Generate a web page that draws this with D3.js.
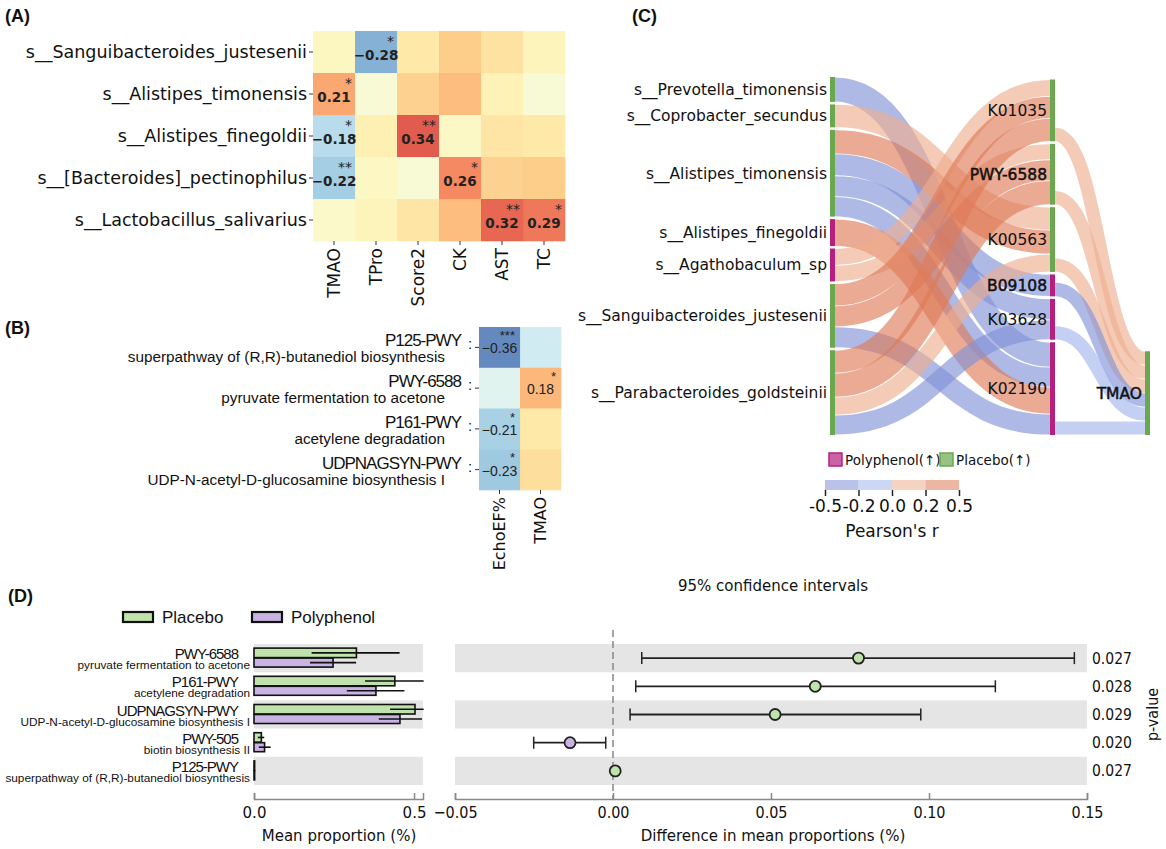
<!DOCTYPE html>
<html>
<head>
<meta charset="utf-8">
<title>Correlation and pathway panels</title>
<script src="https://d3js.org/d3.v7.min.js"></script>
<style>
  body { margin: 0; background: #fff; }
  svg text { font-family: "DejaVu Sans", sans-serif; fill: #111; }
  svg text.arial { font-family: "Liberation Sans", Arial, sans-serif; }
  svg text.cond { font-family: "DejaVu Sans Condensed", "DejaVu Sans", sans-serif; font-stretch: condensed; }
</style>
</head>
<body>
<svg id="fig" width="1166" height="849"></svg>
<script>
// ---------- (A) species x clinical traits
var speciesA = ["s__Sanguibacteroides_justesenii", "s__Alistipes_timonensis", "s__Alistipes_finegoldii",
                "s__[Bacteroides]_pectinophilus", "s__Lactobacillus_salivarius"];
var traitsA = ["TMAO", "TPro", "Score2", "CK", "AST", "TC"];
var corrA = [
  [0.02, -0.28, 0.07, 0.14, 0.09, 0.03],
  [0.21, -0.02, 0.13, 0.17, 0.04, -0.02],
  [-0.18, 0.05, 0.34, 0.01, 0.08, 0.07],
  [-0.22, 0.015, -0.02, 0.26, 0.13, 0.14],
  [0.0, 0.03, 0.08, 0.17, 0.32, 0.29]
];
var starsA = [
  ["", "*", "", "", "", ""],
  ["*", "", "", "", "", ""],
  ["*", "", "**", "", "", ""],
  ["**", "", "", "*", "", ""],
  ["", "", "", "", "**", "*"]
];

// ---------- (B) pathways x traits
var pathB = ["P125-PWY", "PWY-6588", "P161-PWY", "UDPNAGSYN-PWY"];
var descB = ["superpathway of (R,R)-butanediol biosynthesis", "pyruvate fermentation to acetone",
             "acetylene degradation", "UDP-N-acetyl-D-glucosamine biosynthesis I"];
var traitsB = ["EchoEF%", "TMAO"];
var corrB = [
  [-0.36, -0.13],
  [-0.09, 0.18],
  [-0.21, 0.07],
  [-0.23, 0.10]
];
var starsB = [
  ["***", ""],
  ["", "*"],
  ["*", ""],
  ["*", ""]
];

// ---------- (C) sankey
var sankeyNodes = ["s__Prevotella_timonensis", "s__Coprobacter_secundus", "s__Alistipes_timonensis",
                   "s__Alistipes_finegoldii", "s__Agathobaculum_sp", "s__Sanguibacteroides_justesenii",
                   "s__Parabacteroides_goldsteinii",
                   "K01035", "PWY-6588", "K00563", "B09108", "K03628", "K02190", "TMAO"];
var sankeyCols = [0, 0, 0, 0, 0, 0, 0, 1, 1, 1, 1, 1, 1, 2];
var sankeyGroups = ["Placebo", "Placebo", "Placebo", "Polyphenol", "Polyphenol", "Placebo", "Placebo",
                    "Placebo", "Placebo", "Placebo", "Polyphenol", "Polyphenol", "Polyphenol", "Placebo"];
// [source, target, weight, pearson r]
var sankeyLinks = [
  ["s__Prevotella_timonensis", "K02190", 25, -0.25],
  ["s__Coprobacter_secundus", "K00563", 23, 0.18],
  ["s__Alistipes_timonensis", "K00563", 24, 0.28],
  ["s__Alistipes_timonensis", "B09108", 22, -0.26],
  ["s__Alistipes_timonensis", "K03628", 21, -0.24],
  ["s__Alistipes_timonensis", "K02190", 20, -0.23],
  ["s__Alistipes_finegoldii", "K02190", 27, 0.27],
  ["s__Agathobaculum_sp", "K01035", 17, 0.15],
  ["s__Agathobaculum_sp", "PWY-6588", 16, 0.16],
  ["s__Sanguibacteroides_justesenii", "K01035", 22, 0.26],
  ["s__Sanguibacteroides_justesenii", "PWY-6588", 21, 0.27],
  ["s__Sanguibacteroides_justesenii", "K02190", 21, -0.25],
  ["s__Parabacteroides_goldsteinii", "K01035", 23, 0.28],
  ["s__Parabacteroides_goldsteinii", "PWY-6588", 24, 0.26],
  ["s__Parabacteroides_goldsteinii", "K00563", 18, 0.16],
  ["s__Parabacteroides_goldsteinii", "K03628", 20, -0.22],
  ["K01035", "TMAO", 14, 0.17],
  ["PWY-6588", "TMAO", 14, 0.16],
  ["K00563", "TMAO", 14, 0.15],
  ["B09108", "TMAO", 14, -0.21],
  ["K03628", "TMAO", 14, -0.18],
  ["K02190", "TMAO", 14, -0.18]
];
var rBreaks = [-0.2, 0, 0.2];
var rTickLabels = ["-0.5", "-0.2", "0.0", "0.2", "0.5"];

// ---------- (D) extended error bar
var pathD = ["PWY-6588", "P161-PWY", "UDPNAGSYN-PWY", "PWY-505", "P125-PWY"];
var descD = ["pyruvate fermentation to acetone", "acetylene degradation",
             "UDP-N-acetyl-D-glucosamine biosynthesis I", "biotin biosynthesis II",
             "superpathway of (R,R)-butanediol biosynthesis"];
var placeboMean = [0.32, 0.44, 0.503, 0.023, 0.002];
var placeboLo = [0.18, 0.347, 0.425, 0.012, 0.001];
var placeboHi = [0.455, 0.53, 0.53, 0.032, 0.003];
var polyMean = [0.247, 0.381, 0.456, 0.033, 0.002];
var polyLo = [0.175, 0.29, 0.39, 0.015, 0.001];
var polyHi = [0.319, 0.47, 0.525, 0.052, 0.003];
var diffMean = [0.0777, 0.064, 0.0513, -0.0136, 0.0007];
var diffLo = [0.0091, 0.0072, 0.0054, -0.0251, 0.0003];
var diffHi = [0.146, 0.121, 0.0974, -0.0023, 0.0011];
var pValues = ["0.027", "0.028", "0.029", "0.020", "0.027"];
var ticksMean = [0, 0.5];
var ticksDiff = [-0.05, 0, 0.05, 0.10, 0.15];

var svg = d3.select("#fig");
var heat = d3.scaleSequential([0.45, -0.45], d3.interpolateRdYlBu);
var f2 = d3.format(".2f");

// panel letters
[["(A)", 5, 22], ["(B)", 5, 334], ["(C)", 632, 22], ["(D)", 8, 602]].forEach(function (p) {
  svg.append("text").attr("class", "arial").attr("x", p[1]).attr("y", p[2])
    .style("font-size", "18px").style("font-weight", "bold").text(p[0]);
});

// ================= panel A
var xA = d3.scaleBand().domain(traitsA).range([313, 565]);
var yA = d3.scaleBand().domain(speciesA).range([31, 241]);
var cellsA = [];
speciesA.forEach(function (sp, i) {
  traitsA.forEach(function (tr, j) {
    cellsA.push({ row: sp, col: tr, r: corrA[i][j], s: starsA[i][j] });
  });
});
var gA = svg.append("g");
gA.selectAll("rect").data(cellsA).join("rect")
  .attr("x", d => xA(d.col)).attr("y", d => yA(d.row))
  .attr("width", xA.bandwidth() + 0.3).attr("height", yA.bandwidth() + 0.3)
  .attr("fill", d => heat(d.r)).attr("fill-opacity", 0.85);
var sigA = cellsA.filter(d => d.s !== "");
gA.selectAll("text.val").data(sigA).join("text").attr("class", "val")
  .attr("x", d => xA(d.col) + xA.bandwidth() / 2).attr("y", d => yA(d.row) + yA.bandwidth() / 2 + 8)
  .attr("text-anchor", "middle").style("font-size", "13.5px").style("font-weight", "bold")
  .style("fill", "#222").text(d => f2(d.r));
gA.selectAll("text.star").data(sigA).join("text").attr("class", "star")
  .attr("x", d => xA(d.col) + xA.bandwidth() - 3).attr("y", d => yA(d.row) + 15)
  .attr("text-anchor", "end").style("font-size", "14px").style("fill", "#222").text(d => d.s);
speciesA.forEach(function (sp) {
  var cy = yA(sp) + yA.bandwidth() / 2;
  gA.append("line").attr("x1", 309).attr("x2", 313).attr("y1", cy).attr("y2", cy).attr("stroke", "#333");
  gA.append("text").attr("x", 307).attr("y", cy).attr("dy", "0.35em").attr("text-anchor", "end")
    .style("font-size", "17.5px").text(sp);
});
traitsA.forEach(function (tr) {
  var cx = xA(tr) + xA.bandwidth() / 2;
  gA.append("line").attr("x1", cx).attr("x2", cx).attr("y1", 241).attr("y2", 245).attr("stroke", "#333");
  gA.append("text").attr("transform", "translate(" + cx + ",248) rotate(-90)")
    .attr("dy", "0.35em").attr("text-anchor", "end").style("font-size", "17px").text(tr);
});

// ================= panel B
var xB = d3.scaleBand().domain(traitsB).range([479, 561]);
var yB = d3.scaleBand().domain(pathB).range([327, 490]);
var cellsB = [];
pathB.forEach(function (p, i) {
  traitsB.forEach(function (tr, j) {
    cellsB.push({ row: p, col: tr, r: corrB[i][j], s: starsB[i][j] });
  });
});
var gB = svg.append("g");
gB.selectAll("rect").data(cellsB).join("rect")
  .attr("x", d => xB(d.col)).attr("y", d => yB(d.row))
  .attr("width", xB.bandwidth() + 0.3).attr("height", yB.bandwidth() + 0.3)
  .attr("fill", d => heat(d.r)).attr("fill-opacity", 0.85);
var sigB = cellsB.filter(d => d.s !== "");
gB.selectAll("text.val").data(sigB).join("text").attr("class", "val arial")
  .attr("x", d => xB(d.col) + xB.bandwidth() / 2).attr("y", d => yB(d.row) + yB.bandwidth() / 2 + 6)
  .attr("text-anchor", "middle").style("font-size", "14px").style("fill", "#222").text(d => f2(d.r));
gB.selectAll("text.star").data(sigB).join("text").attr("class", "star arial")
  .attr("x", d => xB(d.col) + xB.bandwidth() - 5).attr("y", d => yB(d.row) + 13)
  .attr("text-anchor", "end").style("font-size", "13px").style("fill", "#222").text(d => d.s);
pathB.forEach(function (p, i) {
  var cy = yB(p) + yB.bandwidth() / 2;
  gB.append("text").attr("class", "arial").attr("x", 461).attr("y", cy - 1).attr("text-anchor", "end")
    .style("font-size", "17px").style("letter-spacing", "-1px").text(p);
  gB.append("text").attr("class", "arial").attr("x", 470).attr("y", cy + 2).attr("text-anchor", "middle")
    .style("font-size", "15px").text(":");
  gB.append("text").attr("class", "arial").attr("x", 445).attr("y", cy + 15).attr("text-anchor", "end")
    .style("font-size", "15.3px").text(descB[i]);
  gB.append("line").attr("x1", 475).attr("x2", 479).attr("y1", cy).attr("y2", cy).attr("stroke", "#333");
});
traitsB.forEach(function (tr) {
  var cx = xB(tr) + xB.bandwidth() / 2;
  gB.append("line").attr("x1", cx).attr("x2", cx).attr("y1", 490).attr("y2", 494).attr("stroke", "#333");
  gB.append("text").attr("transform", "translate(" + cx + ",497) rotate(-90)")
    .attr("dy", "0.35em").attr("text-anchor", "end").style("font-size", "16px").text(tr);
});

// ================= panel C (sankey, laid out by hand)
var linkColor = d3.scaleThreshold().domain(rBreaks).range(["#8092d8", "#a3b6ec", "#eeae8e", "#de7a58"]);
var groupColor = d3.scaleOrdinal().domain(["Polyphenol", "Placebo"]).range(["#b5207f", "#6aa84f"]);
var colX = d3.scaleOrdinal().domain([0, 1, 2]).range([830, 1050, 1145]);
var nodeW = 5, nodePad = 2.5, sTop = 77, sBottom = 435;

var nodes = sankeyNodes.map(function (name, i) {
  return { name: name, col: sankeyCols[i], group: sankeyGroups[i], inL: [], outL: [] };
});
var byName = new Map(nodes.map(n => [n.name, n]));
var links = sankeyLinks.map(function (l) {
  return { source: byName.get(l[0]), target: byName.get(l[1]), value: l[2], r: l[3] };
});
links.forEach(function (l) { l.source.outL.push(l); l.target.inL.push(l); });
nodes.forEach(function (n) {
  n.inV = d3.sum(n.inL, l => l.value);
  n.outV = d3.sum(n.outL, l => l.value);
  n.value = Math.max(n.inV, n.outV);
});
var columns = d3.groups(nodes, n => n.col);
var kMin = d3.min(columns, c => (sBottom - sTop - (c[1].length - 1) * nodePad) / d3.sum(c[1], n => n.value));
var hS = d3.scaleLinear().domain([0, 1]).range([0, kMin]);
columns.forEach(function (c) {
  var y = sBottom;
  c[1].slice().reverse().forEach(function (n) {
    n.x0 = colX(n.col); n.x1 = n.x0 + nodeW;
    n.y1 = y; n.y0 = y - hS(n.value); y = n.y0 - nodePad;
  });
});
nodes.forEach(function (n) {
  var y = n.y1 - hS(n.outV);
  n.outL.sort((a, b) => a.target.y0 - b.target.y0).forEach(function (l) {
    l.w = hS(l.value); l.sy = y + l.w / 2; y += l.w;
  });
  y = n.y0;
  n.inL.sort((a, b) => a.source.y0 - b.source.y0).forEach(function (l) {
    l.ty = y + hS(l.value) / 2; y += hS(l.value);
  });
});
var linkGen = d3.linkHorizontal();
var gC = svg.append("g");
gC.selectAll("path.link").data(links).join("path").attr("class", "link")
  .attr("d", l => linkGen({ source: [l.source.x1, l.sy], target: [l.target.x0, l.ty] }))
  .attr("fill", "none").attr("stroke", l => linkColor(l.r))
  .attr("stroke-opacity", 0.64).attr("stroke-width", l => Math.max(1, l.w - 0.8));
gC.selectAll("rect.node").data(nodes).join("rect").attr("class", "node")
  .attr("x", n => n.x0).attr("y", n => n.y0).attr("width", nodeW).attr("height", n => n.y1 - n.y0)
  .attr("fill", n => groupColor(n.group));
gC.selectAll("text.nlab").data(nodes).join("text").attr("class", "nlab")
  .attr("x", n => n.x0 - 3).attr("y", n => (n.y0 + n.y1) / 2).attr("dy", "0.35em")
  .attr("text-anchor", "end").style("font-size", "15.5px")
  .style("stroke", n => (n.name === "PWY-6588" || n.name === "B09108" || n.name === "TMAO") ? "#111" : "none")
  .style("stroke-width", 0.5)
  .text(n => n.name);

// legend for groups
var legC = svg.append("g");
[["Polyphenol", "Polyphenol(\u2191)", 829], ["Placebo", "Placebo(\u2191)", 940]].forEach(function (g) {
  legC.append("rect").attr("x", g[2]).attr("y", 453).attr("width", 13).attr("height", 13)
    .attr("fill", groupColor(g[0])).attr("fill-opacity", 0.7)
    .attr("stroke", groupColor(g[0])).attr("stroke-width", 1.5);
  legC.append("text").attr("x", g[2] + 16).attr("y", 464.5).style("font-size", "13.5px").text(g[1]);
});
// colour bar
var cbX = d3.scalePoint().domain(rTickLabels).range([825, 959]);
var cbColors = linkColor.range();
rTickLabels.slice(0, 4).forEach(function (t, i) {
  legC.append("rect").attr("x", cbX(t)).attr("y", 480)
    .attr("width", cbX(rTickLabels[i + 1]) - cbX(t)).attr("height", 10)
    .attr("fill", cbColors[i]).attr("fill-opacity", 0.55);
});
var cbAxis = d3.axisBottom(cbX).tickSize(6).tickSizeOuter(0).tickPadding(4);
var cbG = legC.append("g").attr("transform", "translate(0,490)").call(cbAxis);
cbG.select(".domain").remove();
cbG.selectAll("line").attr("stroke", "#222").attr("stroke-width", 1.5);
cbG.selectAll("text").style("font-size", "17px").style("font-family", "DejaVu Sans").attr("fill", "#111");
legC.append("text").attr("x", 892).attr("y", 537).attr("text-anchor", "middle")
  .style("font-size", "17px").text("Pearson's r");

// ================= panel D
var yD = d3.scaleBand().domain(pathD).range([644, 785]);
var xL = d3.scaleLinear().domain([0, 0.528]).range([254, 423]);
var xR = d3.scaleLinear().domain([-0.05, 0.15]).range([455, 1087]);
var gD = svg.append("g");
var cPlacebo = "#bfe3aa", cPoly = "#c8b3e3";

pathD.forEach(function (p, i) {
  if (i % 2 === 0) {
    gD.append("rect").attr("x", xL(0)).attr("y", yD(p)).attr("width", xL(0.528) - xL(0))
      .attr("height", yD.bandwidth()).attr("fill", "#e5e5e5");
    gD.append("rect").attr("x", xR(-0.05)).attr("y", yD(p)).attr("width", xR(0.15) - xR(-0.05))
      .attr("height", yD.bandwidth()).attr("fill", "#e5e5e5");
  }
});

// mean proportion bars
pathD.forEach(function (p, i) {
  var cy = yD(p) + yD.bandwidth() / 2;
  var bars = [
    { m: placeboMean[i], lo: placeboLo[i], hi: placeboHi[i], c: cPlacebo, y: cy - 10, h: 9.5 },
    { m: polyMean[i], lo: polyLo[i], hi: polyHi[i], c: cPoly, y: cy, h: 9 }
  ];
  bars.forEach(function (b) {
    gD.append("rect").attr("x", xL(0)).attr("y", b.y).attr("width", xL(b.m) - xL(0)).attr("height", b.h)
      .attr("fill", b.c).attr("stroke", "#111").attr("stroke-width", 1.6);
    gD.append("line").attr("x1", xL(b.lo)).attr("x2", xL(b.hi)).attr("y1", b.y + b.h / 2).attr("y2", b.y + b.h / 2)
      .attr("stroke", "#111").attr("stroke-width", 1.6);
  });
  gD.append("text").attr("class", "arial").attr("x", 238).attr("y", cy + 1).attr("text-anchor", "end")
    .style("font-size", "15px").style("letter-spacing", "-1px").text(p);
  gD.append("text").attr("class", "arial").attr("x", 250).attr("y", cy + 11).attr("text-anchor", "end")
    .style("font-size", "11.8px").text(descD[i]);
});

// legend D
[["Placebo", cPlacebo, 123], ["Polyphenol", cPoly, 252]].forEach(function (g) {
  gD.append("rect").attr("x", g[2]).attr("y", 612).attr("width", 30).attr("height", 10)
    .attr("fill", g[1]).attr("stroke", "#111").attr("stroke-width", 2.2);
  gD.append("text").attr("class", "arial").attr("x", g[2] + 39).attr("y", 623)
    .style("font-size", "17px").text(g[0]);
});

// difference CI
gD.append("line").attr("x1", xR(0)).attr("x2", xR(0)).attr("y1", 630).attr("y2", 799)
  .attr("stroke", "#888").attr("stroke-width", 1.5).attr("stroke-dasharray", "7,4");
pathD.forEach(function (p, i) {
  var cy = yD(p) + yD.bandwidth() / 2;
  gD.append("line").attr("x1", xR(diffLo[i])).attr("x2", xR(diffHi[i])).attr("y1", cy).attr("y2", cy)
    .attr("stroke", "#222").attr("stroke-width", 1.8);
  [diffLo[i], diffHi[i]].forEach(function (v) {
    gD.append("line").attr("x1", xR(v)).attr("x2", xR(v)).attr("y1", cy - 6).attr("y2", cy + 6)
      .attr("stroke", "#222").attr("stroke-width", 1.5);
  });
  gD.append("circle").attr("cx", xR(diffMean[i])).attr("cy", cy).attr("r", 5.5)
    .attr("fill", diffMean[i] >= 0 ? cPlacebo : cPoly).attr("stroke", "#222").attr("stroke-width", 1.8);
  gD.append("text").attr("class", "cond").attr("x", 1092).attr("y", cy).attr("dy", "0.35em")
    .style("font-size", "15.5px").text(pValues[i]);
});
gD.append("text").attr("class", "cond").attr("transform", "translate(1152," + (yD(pathD[2]) + yD.bandwidth() / 2) + ") rotate(-90)")
  .attr("text-anchor", "middle").attr("dy", "0.35em").style("font-size", "16px").text("p-value");
gD.append("text").attr("class", "cond").attr("x", 773).attr("y", 591).attr("text-anchor", "middle")
  .style("font-size", "16.7px").text("95% confidence intervals");

// axes D
function styleAxis(g, cls) {
  g.select(".domain").attr("stroke", "#888").attr("stroke-width", 1.5);
  g.selectAll(".tick line").attr("stroke", "#888").attr("stroke-width", 1.5);
  g.selectAll("text").attr("class", cls).style("font-size", "15px").attr("fill", "#111");
}
var axL = gD.append("g").attr("transform", "translate(0,799)")
  .call(d3.axisBottom(xL).tickValues(ticksMean).tickFormat(d3.format(".1f"))
    .tickSizeInner(-6).tickSizeOuter(-6).tickPadding(8));
styleAxis(axL, "");
axL.selectAll("text").style("font-family", "DejaVu Sans");
var axR = gD.append("g").attr("transform", "translate(0,799)")
  .call(d3.axisBottom(xR).tickValues(ticksDiff).tickFormat(d3.format(".2f"))
    .tickSizeInner(-6).tickSizeOuter(-6).tickPadding(8));
styleAxis(axR, "cond");
axR.selectAll("text").style("font-family", "'DejaVu Sans Condensed', 'DejaVu Sans', sans-serif").style("font-size", "16px");
gD.append("text").attr("x", 339).attr("y", 841).attr("text-anchor", "middle")
  .style("font-size", "15px").text("Mean proportion (%)");
gD.append("text").attr("class", "cond").attr("x", 773).attr("y", 841).attr("text-anchor", "middle")
  .style("font-size", "16.7px").text("Difference in mean proportions (%)");
</script>
</body>
</html>
